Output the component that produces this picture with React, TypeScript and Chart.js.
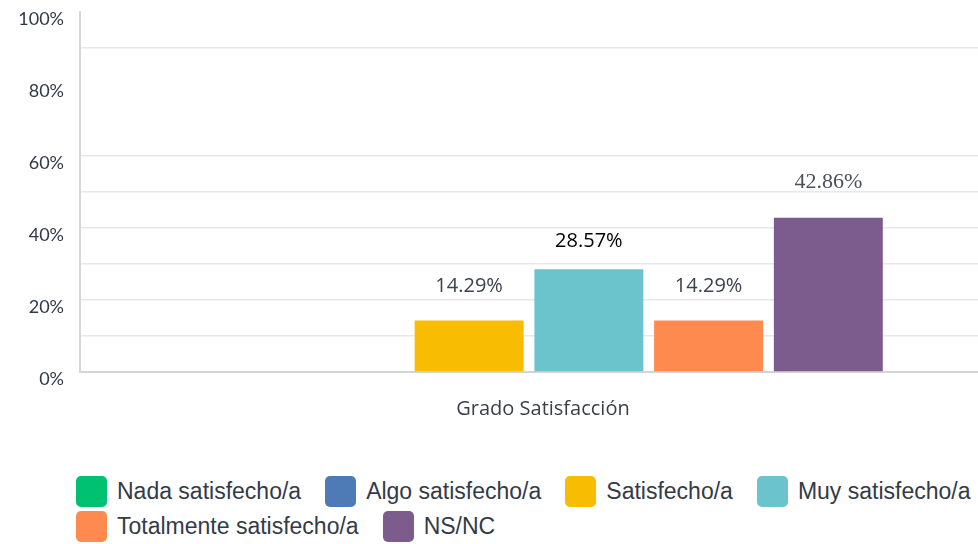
import React, { useEffect, useRef } from 'react';
import { Chart, registerables } from 'chart.js';

Chart.register(...registerables);

// ---- data ----
const categories = ['Grado Satisfacción'];
const seriesNames = [
  'Nada satisfecho/a',
  'Algo satisfecho/a',
  'Satisfecho/a',
  'Muy satisfecho/a',
  'Totalmente satisfecho/a',
  'NS/NC',
];
const nadaValues = [0];
const algoValues = [0];
const satisfechoValues = [14.29];
const muyValues = [28.57];
const totalmenteValues = [14.29];
const nsncValues = [42.86];
const seriesValues = [nadaValues, algoValues, satisfechoValues, muyValues, totalmenteValues, nsncValues];
const yTickLabels = [0, 20, 40, 60, 80, 100];
const hiddenGridValues = [70, 80, 100];

// ---- styles ----
const seriesColors = ['#00c072', '#4e7ab5', '#f8bc03', '#6bc4cb', '#fe8a50', '#7b5c8c'];
const labelStyles = [
  { font: '20px "Open Sans"', color: '#3b4350', offset: 34 },
  { font: '20px "Open Sans"', color: '#3b4350', offset: 34 },
  { font: '20px "Open Sans"', color: '#3b4350', offset: 34 },
  { font: '20px "Open Sans"', color: '#000000', offset: 28 },
  { font: '20px "Open Sans"', color: '#3b4350', offset: 34 },
  { font: '22px "Liberation Serif"', color: '#4b515a', offset: 35 },
];

const valueLabelPlugin = {
  id: 'valueLabels',
  afterDatasetsDraw(chart: any) {
    const ctx = chart.ctx;
    chart.data.datasets.forEach((ds: any, i: number) => {
      const meta = chart.getDatasetMeta(i);
      if (meta.hidden) return;
      meta.data.forEach((el: any, j: number) => {
        const v = ds.data[j];
        if (!v) return;
        const st = labelStyles[i];
        ctx.save();
        ctx.font = st.font;
        ctx.fillStyle = st.color;
        ctx.textAlign = 'center';
        ctx.textBaseline = 'middle';
        ctx.fillText(v.toFixed(2) + '%', el.x, el.y - st.offset);
        ctx.restore();
      });
    });
  },
};

export default function App() {
  const canvasRef = useRef<HTMLCanvasElement | null>(null);

  useEffect(() => {
    if (!canvasRef.current) return;
    const chart = new Chart(canvasRef.current, {
      type: 'bar',
      data: {
        labels: categories,
        datasets: seriesNames.map((name, i) => ({
          label: name,
          data: seriesValues[i],
          backgroundColor: seriesColors[i],
          borderWidth: 0,
          categoryPercentage: 0.8,
          barPercentage: 0.91,
        })),
      },
      options: {
        responsive: false,
        animation: false,
        layout: { padding: { top: 12, bottom: 12, left: 0, right: 0 } },
        plugins: {
          legend: { display: false },
          tooltip: { enabled: false },
        },
        scales: {
          x: {
            ticks: {
              font: { family: 'Open Sans', size: 20 },
              color: '#3a3f47',
              padding: 25,
              labelOffset: 14,
            },
            grid: { display: false, drawTicks: false },
            border: { display: true, color: '#d4d4d4', width: 2 },
            afterFit: (s: any) => {
              s.paddingLeft = 0;
              s.paddingRight = 0;
            },
          },
          y: {
            min: 0,
            max: 100,
            ticks: {
              stepSize: 10,
              autoSkip: false,
              callback: (v: any) => (yTickLabels.includes(v) ? v + '%' : ''),
              font: { family: 'Lato', size: 18 },
              color: '#2f3a48',
              padding: 16,
              labelOffset: 7,
            },
            grid: {
              color: (c: any) =>
                c.tick && hiddenGridValues.includes(c.tick.value) ? 'rgba(0,0,0,0)' : '#e8e8e8',
              lineWidth: 1.5,
              drawTicks: false,
            },
            border: { display: true, color: '#d6d6d6', width: 2 },
            afterFit: (s: any) => {
              s.width = 80;
              s.paddingTop = 0;
              s.paddingBottom = 0;
            },
          },
        },
      },
      plugins: [valueLabelPlugin],
    });
    return () => chart.destroy();
  }, []);

  return (
    <div style={{ position: 'absolute', left: 0, top: 0, width: 978, height: 544, background: '#fff' }}>
      <canvas ref={canvasRef} width={978} height={458} style={{ display: 'block' }} />
      <div
        style={{
          position: 'absolute',
          left: 76,
          top: 476,
          width: 930,
          display: 'flex',
          flexWrap: 'wrap',
          rowGap: 4,
          fontFamily: '"Liberation Sans", Arial, sans-serif',
          fontSize: 23,
          color: '#333b47',
        }}
      >
        {seriesNames.map((name, i) => (
          <div key={name} style={{ display: 'flex', alignItems: 'center', marginRight: 24, height: 31 }}>
            <span
              style={{
                width: 31,
                height: 31,
                borderRadius: 5,
                background: seriesColors[i],
                marginRight: 10,
                display: 'inline-block',
              }}
            />
            <span style={{ whiteSpace: 'nowrap', lineHeight: '31px' }}>{name}</span>
          </div>
        ))}
      </div>
    </div>
  );
}
